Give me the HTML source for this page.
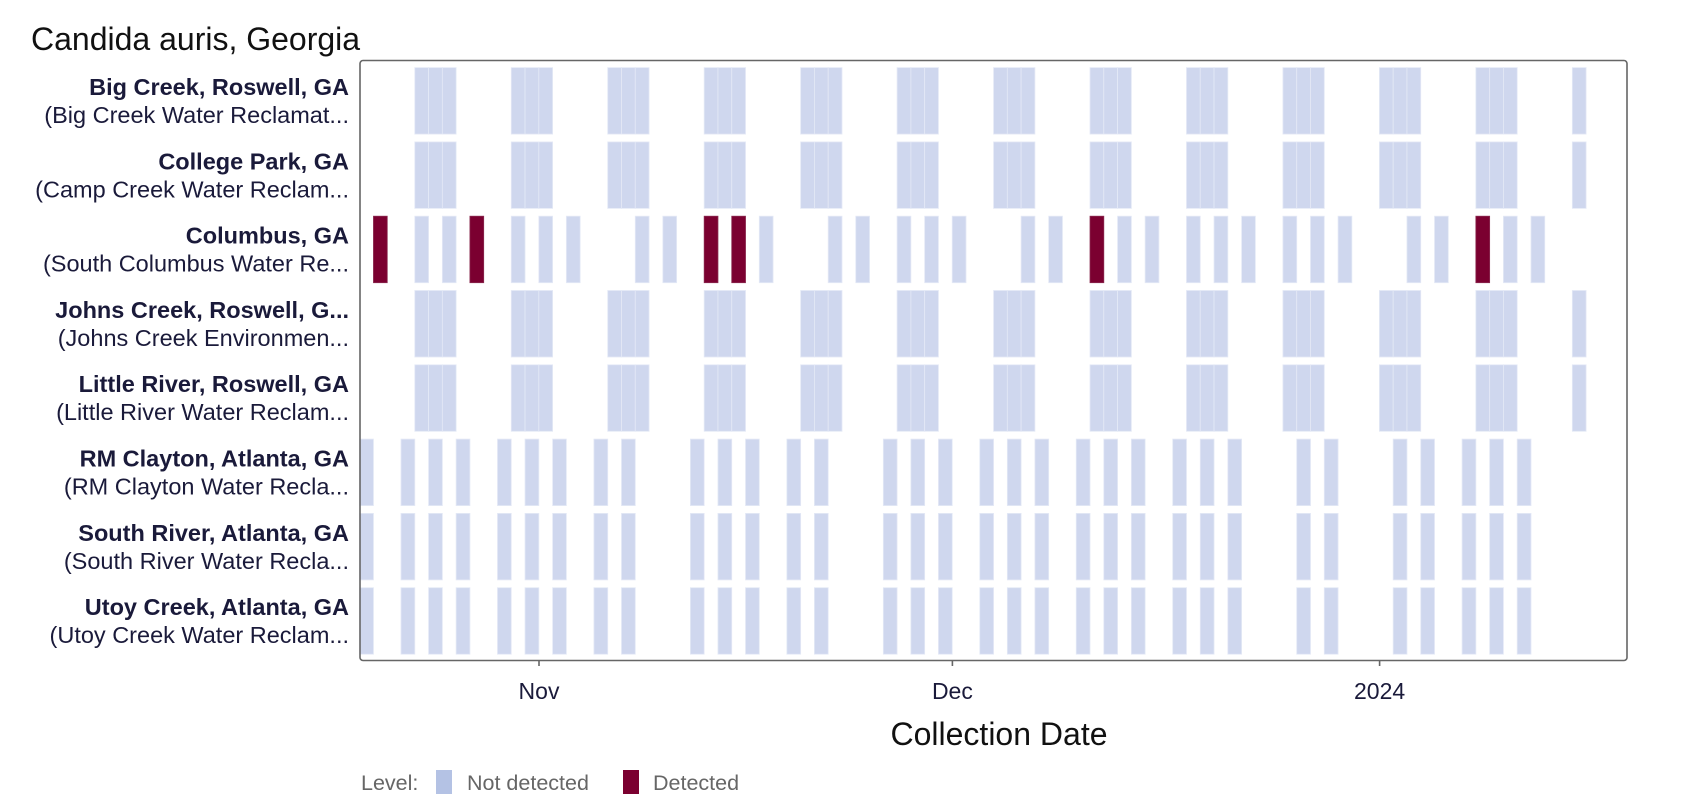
<!DOCTYPE html>
<html><head><meta charset="utf-8"><style>
html,body{margin:0;padding:0;background:#fff;}
svg{display:block;font-family:"Liberation Sans",sans-serif;}
</style></head><body>
<svg id="s" width="1702" height="810" viewBox="0 0 1702 810" xmlns="http://www.w3.org/2000/svg">
<text x="31" y="50" font-size="32" fill="#111">Candida auris, Georgia</text>
<g id="bars"></g>
<rect x="360" y="60.5" width="1267" height="600" rx="3" fill="none" stroke="#666" stroke-width="1.6"/>
<g stroke="#666" stroke-width="1.6">
<line x1="539" y1="660" x2="539" y2="666"/>
<line x1="952.4" y1="660" x2="952.4" y2="666"/>
<line x1="1379.6" y1="660" x2="1379.6" y2="666"/>
</g>
<g font-size="23" fill="#1a1a3a" text-anchor="middle">
<text x="539" y="699">Nov</text>
<text x="952.4" y="699">Dec</text>
<text x="1379.6" y="699">2024</text>
</g>
<text x="999" y="745" font-size="32" fill="#111" text-anchor="middle">Collection Date</text>
<g font-size="23.5" fill="#1a1a3a" text-anchor="end">
<text x="349" y="95" font-weight="bold">Big Creek, Roswell, GA</text>
<text x="349" y="123">(Big Creek Water Reclamat...</text>
<text x="349" y="169.3" font-weight="bold">College Park, GA</text>
<text x="349" y="197.3">(Camp Creek Water Reclam...</text>
<text x="349" y="243.6" font-weight="bold">Columbus, GA</text>
<text x="349" y="271.6">(South Columbus Water Re...</text>
<text x="349" y="317.9" font-weight="bold">Johns Creek, Roswell, G...</text>
<text x="349" y="345.9">(Johns Creek Environmen...</text>
<text x="349" y="392.2" font-weight="bold">Little River, Roswell, GA</text>
<text x="349" y="420.2">(Little River Water Reclam...</text>
<text x="349" y="466.5" font-weight="bold">RM Clayton, Atlanta, GA</text>
<text x="349" y="494.5">(RM Clayton Water Recla...</text>
<text x="349" y="540.8" font-weight="bold">South River, Atlanta, GA</text>
<text x="349" y="568.8">(South River Water Recla...</text>
<text x="349" y="615.1" font-weight="bold">Utoy Creek, Atlanta, GA</text>
<text x="349" y="643.1">(Utoy Creek Water Reclam...</text>
</g>
<g font-size="21.5" fill="#666">
<text x="361" y="790">Level:</text>
<rect x="436" y="770" width="16" height="24" fill="#b4c2e4"/>
<text x="467" y="790">Not detected</text>
<rect x="623" y="770" width="16" height="24" fill="#7b0030"/>
<text x="653" y="790">Detected</text>
</g>
</svg>
<script>
(function(){
var g=document.getElementById('bars'),ns='http://www.w3.org/2000/svg';
var x0=414.8,w=13.78;
function bar(row,d,red){
 var r=document.createElementNS(ns,'rect');
 r.setAttribute('x',(x0+d*w).toFixed(2));
 r.setAttribute('y',(67.6+74.3*row).toFixed(2));
 r.setAttribute('width',w.toFixed(2));
 r.setAttribute('height','66.5');
 r.setAttribute('fill',red?'#7b0030':'#cfd7ee');
 r.setAttribute('stroke',red?'#8a2a50':'#e4e9f6');
 r.setAttribute('stroke-width','0.8');
 g.appendChild(r);
}
var weekly=[];
for(var k=0;k<12;k++){weekly.push(7*k,7*k+1,7*k+2);} weekly.push(84);
[0,1,3,4].forEach(function(r){weekly.forEach(function(d){bar(r,d,false);});});
var col=[-3,0,2,4,7,9,11,16,18,21,23,25,30,32,35,37,39,44,46,49,51,53,56,58,60,63,65,67,72,74,77,79,81];
var red={'-3':1,'4':1,'21':1,'23':1,'49':1,'77':1};
col.forEach(function(d){bar(2,d,!!red[d]);});
var at=[-4,-1,1,3,6,8,10,13,15,20,22,24,27,29,34,36,38,41,43,45,48,50,52,55,57,59,64,66,71,73,76,78,80];
[5,6,7].forEach(function(r){at.forEach(function(d){bar(r,d,false);});});
})();
</script>
</body></html>
